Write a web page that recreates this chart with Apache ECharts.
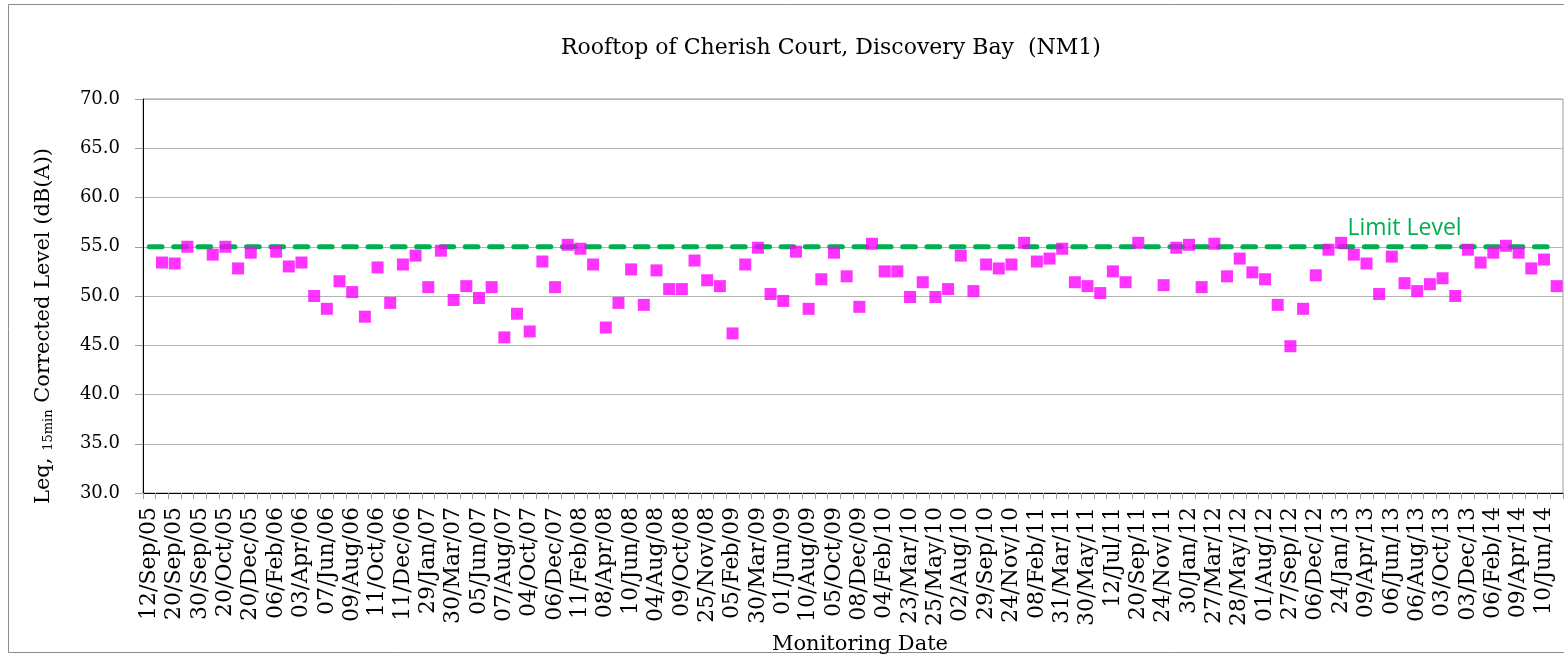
<!DOCTYPE html>
<html><head><meta charset="utf-8">
<script src="https://cdn.jsdelivr.net/npm/echarts@6/dist/echarts.min.js"></script>
<style>html,body{margin:0;padding:0;background:#fff}#c{width:1564px;height:657px}</style>
</head><body><div id="c"></div>
<script>
const dateLabels = ["12/Sep/05","20/Sep/05","30/Sep/05","20/Oct/05","20/Dec/05","06/Feb/06","03/Apr/06","07/Jun/06","09/Aug/06","11/Oct/06","11/Dec/06","29/Jan/07","30/Mar/07","05/Jun/07","07/Aug/07","04/Oct/07","06/Dec/07","11/Feb/08","08/Apr/08","10/Jun/08","04/Aug/08","09/Oct/08","25/Nov/08","05/Feb/09","30/Mar/09","01/Jun/09","10/Aug/09","05/Oct/09","08/Dec/09","04/Feb/10","23/Mar/10","25/May/10","02/Aug/10","29/Sep/10","24/Nov/10","08/Feb/11","31/Mar/11","30/May/11","12/Jul/11","20/Sep/11","24/Nov/11","30/Jan/12","27/Mar/12","28/May/12","01/Aug/12","27/Sep/12","06/Dec/12","24/Jan/13","09/Apr/13","06/Jun/13","06/Aug/13","03/Oct/13","03/Dec/13","06/Feb/14","09/Apr/14","10/Jun/14"];
const leqValues = [null,53.4,53.3,55.0,null,54.2,55.0,52.8,54.4,null,
54.5,53.0,53.4,50.0,48.7,51.5,50.4,47.9,52.9,49.3,
53.2,54.1,50.9,54.6,49.6,51.0,49.8,50.9,45.8,48.2,
46.4,53.5,50.9,55.2,54.8,53.2,46.8,49.3,52.7,49.1,
52.6,50.7,50.7,53.6,51.6,51.0,46.2,53.2,54.9,50.2,
49.5,54.5,48.7,51.7,54.4,52.0,48.9,55.3,52.5,52.5,
49.9,51.4,49.9,50.7,54.1,50.5,53.2,52.8,53.2,55.4,
53.5,53.8,54.8,51.4,51.0,50.3,52.5,51.4,55.4,null,
51.1,54.9,55.2,50.9,55.3,52.0,53.8,52.4,51.7,49.1,
44.9,48.7,52.1,54.7,55.4,54.2,53.3,50.2,54.0,51.3,
50.5,51.2,51.8,50.0,54.7,53.4,54.4,55.1,54.4,52.8,
53.7,51.0];
const limitLevel = 55;
const limitLabelIndex = 99;
const yTicks = [30,35,40,45,50,55,60,65,70];

const categories = [];
dateLabels.forEach(function(d){ categories.push(d); categories.push(''); });
const limitData = categories.map(function(){ return limitLevel; });

const serif = 'DejaVu Serif';
const chart = echarts.init(document.getElementById('c'));
chart.setOption({
  animation: false,
  backgroundColor: '#fff',
  title: {
    text: 'Rooftop of Cherish Court, Discovery Bay  (NM1)',
    left: 556, top: 32,
    textStyle: { fontFamily: serif, fontSize: 22, fontWeight: 'normal', color: '#000' }
  },
  graphic: [{
    type: 'rect', shape: { x: 8.5, y: 4.5, width: 1600, height: 648 },
    style: { fill: 'none', stroke: '#8c8c8c', lineWidth: 1 }, silent: true
  }],
  grid: { left: 143, right: 1, top: 99, bottom: 164, show: true, borderColor: '#9a9a9a', borderWidth: 1,
    containLabel: false, outerBoundsMode: 'none' },
  xAxis: {
    type: 'category', data: categories, boundaryGap: true,
    name: 'Monitoring Date', nameLocation: 'middle', nameGap: 136,
    nameTextStyle: { fontFamily: serif, fontSize: 21, color: '#000', padding: [0, 0, 0, 14] },
    axisLine: { lineStyle: { color: '#000', width: 1 } },
    axisTick: { show: true, interval: 0, length: 6, lineStyle: { color: '#a0a0a0' } },
    axisLabel: { interval: 1, rotate: 90, margin: 14, fontFamily: serif, fontSize: 22, color: '#000' },
    splitLine: { show: false }
  },
  yAxis: {
    type: 'value', min: yTicks[0], max: yTicks[yTicks.length - 1], interval: 5,
    name: '{n|Leq, }{s|15min}{n| Corrected Level (dB(A))}',
    nameLocation: 'middle', nameGap: 88, nameRotate: 90,
    nameTextStyle: {
      padding: [0, 60, 0, 0],
      rich: {
        n: { fontFamily: serif, fontSize: 21, color: '#000' },
        s: { fontFamily: serif, fontSize: 13, color: '#000', padding: [9, 0, 0, 0] }
      }
    },
    axisLine: { show: true, lineStyle: { color: '#000', width: 1 } },
    axisTick: { show: true, inside: false, length: 8, lineStyle: { color: '#a0a0a0' } },
    axisLabel: { margin: 23, fontFamily: serif, fontSize: 18, color: '#000', formatter: function(v){ return v.toFixed(1); } },
    splitLine: { show: true, lineStyle: { color: '#b4b4b4', width: 1 } }
  },
  series: [
    {
      type: 'line', data: limitData, showSymbol: false, z: 2,
      lineStyle: { color: '#00B050', width: 5, type: [12.7, 11.6], cap: 'round' },
      itemStyle: { color: '#00B050' },
      markPoint: {
        symbol: 'circle', symbolSize: 0, silent: true,
        data: [{ coord: [limitLabelIndex, limitLevel] }],
        label: { show: true, formatter: 'Limit Level', position: 'top', distance: 7,
          fontFamily: 'Open Sans', fontSize: 23, color: '#00B050' }
      }
    },
    {
      type: 'scatter', data: leqValues, symbol: 'rect', symbolSize: 12, z: 3,
      itemStyle: { color: '#FF00FF' }
    }
  ]
});
</script></body></html>
